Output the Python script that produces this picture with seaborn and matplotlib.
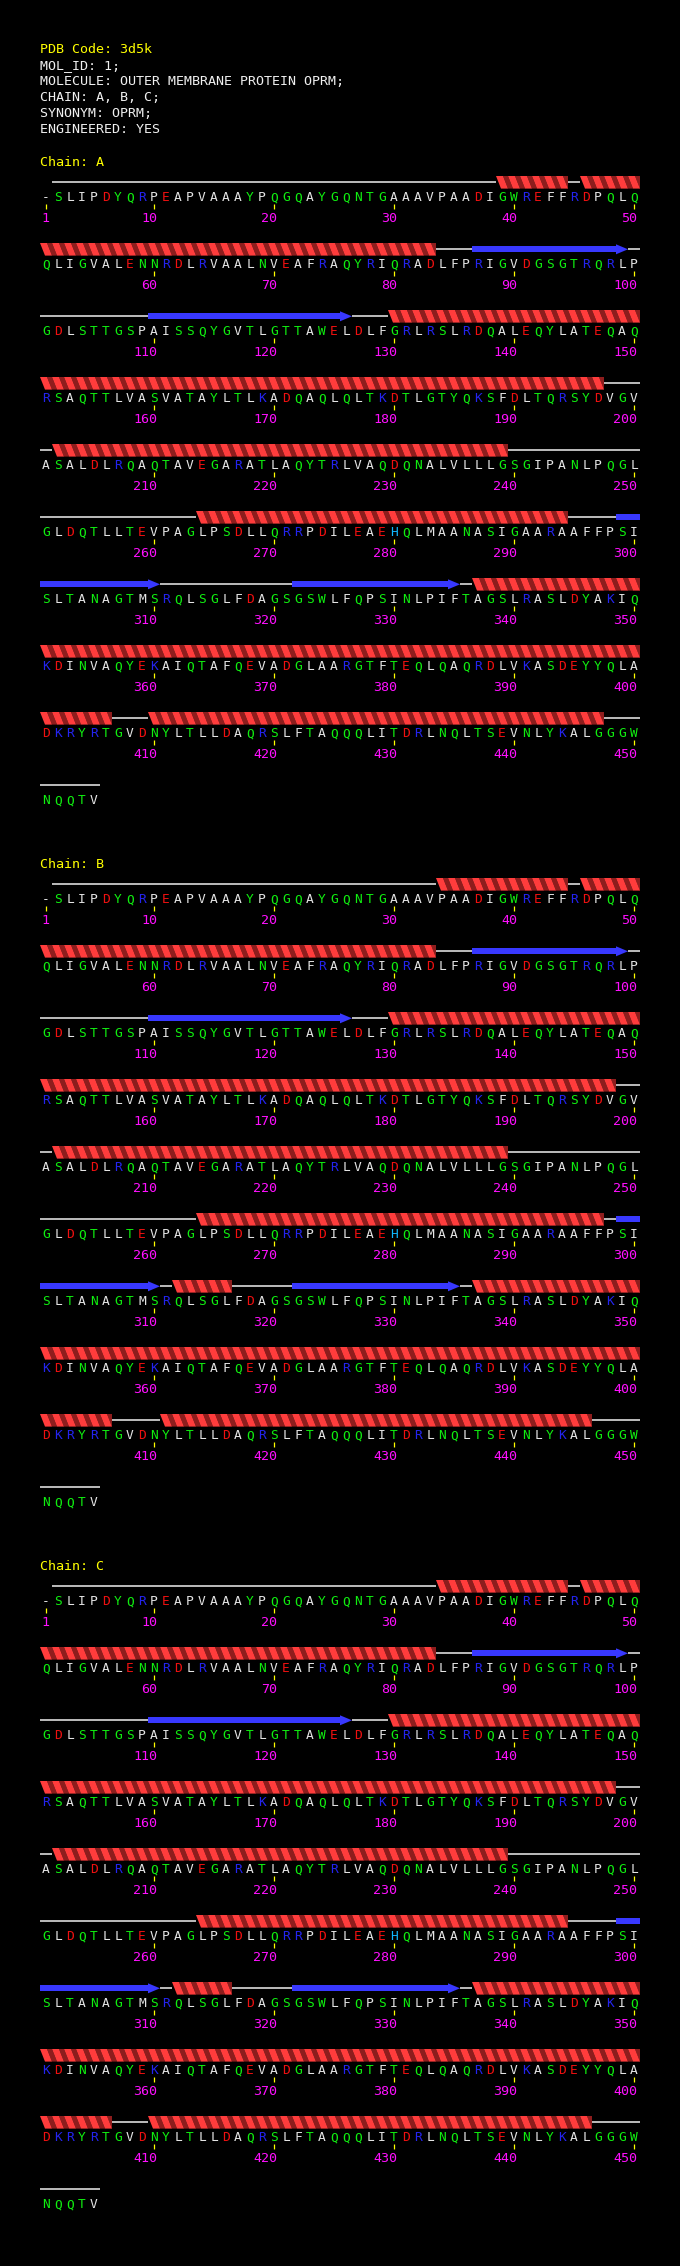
import numpy as np
import matplotlib
matplotlib.use("Agg")
import matplotlib.pyplot as plt
import seaborn as sns
from matplotlib.collections import PolyCollection, LineCollection

# ---------------- data ----------------
header_lines = [
    "PDB Code: 3d5k",
    "MOL_ID: 1;",
    "MOLECULE: OUTER MEMBRANE PROTEIN OPRM;",
    "CHAIN: A, B, C;",
    "SYNONYM: OPRM;",
    "ENGINEERED: YES",
]
header_is_title = [True, False, False, False, False, False]

sequence_rows = [
    "-SLIPDYQRPEAPVAAAYPQGQAYGQNTGAAAVPAADIGWREFFRDPQLQ",
    "QLIGVALENNRDLRVAALNVEAFRAQYRIQRADLFPRIGVDGSGTRQRLP",
    "GDLSTTGSPAISSQYGVTLGTTAWELDLFGRLRSLRDQALEQYLATEQAQ",
    "RSAQTTLVASVATAYLTLKADQAQLQLTKDTLGTYQKSFDLTQRSYDVGV",
    "ASALDLRQAQTAVEGARATLAQYTRLVAQDQNALVLLLGSGIPANLPQGL",
    "GLDQTLLTEVPAGLPSDLLQRRPDILEAEHQLMAANASIGAARAAFFPSI",
    "SLTANAGTMSRQLSGLFDAGSGSWLFQPSINLPIFTAGSLRASLDYAKIQ",
    "KDINVAQYEKAIQTAFQEVADGLAARGTFTEQLQAQRDLVKASDEYYQLA",
    "DKRYRTGVDNYLTLLDAQRSLFTAQQQLITDRLNQLTSEVNLYKALGGGW",
    "NQQTV",
]

chains = ["A", "B", "C"]

helices = {
    "A": [(39, 44), (46, 83), (130, 197), (202, 239), (264, 294), (337, 406), (410, 447)],
    "B": [(34, 44), (46, 83), (130, 198), (202, 239), (264, 297), (312, 316), (337, 406), (411, 446)],
    "C": [(34, 44), (46, 83), (130, 198), (202, 239), (264, 294), (312, 316), (337, 406), (410, 446)],
}
strands = {
    "A": [(87, 99), (110, 126), (299, 310), (322, 335)],
    "B": [(87, 99), (110, 126), (299, 310), (322, 335)],
    "C": [(87, 99), (110, 126), (299, 310), (322, 335)],
}

residue_groups = {
    "acidic": "DE",
    "basic": "RK",
    "his": "H",
    "polar": "STNQGYWC",
}

# ---------------- style ----------------
sns.set_theme(style="dark", rc={"axes.facecolor": "black", "figure.facecolor": "black"})
plt.rcParams["font.family"] = ["DejaVu Sans Mono", "DejaVu Sans"]

group_colors = {
    "acidic": "#f01010",
    "basic": "#2424f0",
    "his": "#10b8ff",
    "polar": "#10ee10",
    "other": "#e4e4e4",
}
C_YELLOW = "#ffff00"
C_WHITE = "#f0f0f0"
C_MAGENTA = "#ff10ff"
C_HELIX = "#ff3c3c"
C_HELIX_DARK = "#8e1d1d"
C_STRAND = "#3838ff"

W, H = 680, 2266
fig = plt.figure(figsize=(W / 100, H / 100), dpi=100)
ax = fig.add_axes([0, 0, 1, 1])
ax.set_xlim(0, W)
ax.set_ylim(H, 0)
ax.axis("off")
ax.set_facecolor("black")

X0, DX = 46, 12          # residue centre spacing
HEAD_X, HEAD_Y0, HEAD_DY = 40, 53, 16
CHAIN_Y0, CHAIN_DY, ROW_DY = 182.3, 702, 67
PER_ROW = 50

seq = "".join(sequence_rows)
n_res = len(seq)


def res_color(c):
    for g, letters in residue_groups.items():
        if c in letters:
            return group_colors[g]
    return group_colors["other"]


# header
for k, (line, is_t) in enumerate(zip(header_lines, header_is_title)):
    ax.text(HEAD_X, HEAD_Y0 + k * HEAD_DY, line, color=C_YELLOW if is_t else C_WHITE,
            fontsize=9.6, ha="left", va="baseline")

for ci, ch in enumerate(chains):
    state = np.array(["C"] * n_res, dtype=object)
    for a, b in helices[ch]:
        state[a - 1:b] = "H"
    for a, b in strands[ch]:
        state[a - 1:b] = "E"
    for i, c in enumerate(seq):
        if c == "-":
            state[i] = ""

    base = CHAIN_Y0 + ci * CHAIN_DY
    ax.text(HEAD_X, base - 16.6, f"Chain: {ch}", color=C_YELLOW, fontsize=9.6,
            ha="left", va="baseline")

    n_rows = len(sequence_rows)
    coil_segs, helix_bright, helix_dark, strand_polys = [], [], [], []
    tick_segs = []
    for r in range(n_rows):
        yl = base + r * ROW_DY
        idx = list(range(r * PER_ROW, min(n_res, (r + 1) * PER_ROW)))
        # letters, ticks, numbers
        for i in idx:
            p = i - r * PER_ROW
            x = X0 + p * DX
            ax.text(x, yl + 19, seq[i], color=res_color(seq[i]), fontsize=9.3,
                    ha="center", va="baseline")
            num = i + 1
            if r < n_rows - 1 and (num == 1 or num % 10 == 0):
                tick_segs.append([(x, yl + 22), (x, yl + 26.5)])
                ax.text(x + 3, yl + 40, str(num), color=C_MAGENTA, fontsize=9.6,
                        ha="right", va="baseline")
        # runs of secondary structure
        runs = []
        for i in idx:
            s = state[i]
            if runs and runs[-1][0] == s:
                runs[-1][2] = i
            else:
                runs.append([s, i, i])
        for s, a, b in runs:
            xl = X0 + (a - r * PER_ROW) * DX - DX / 2
            xr = X0 + (b - r * PER_ROW) * DX + DX / 2
            if s == "C":
                coil_segs.append([(xl, yl), (xr, yl)])
            elif s == "H":
                top, bot = yl - 6.3, yl + 6.3
                for k in range(a, b + 1):
                    cl = X0 + (k - r * PER_ROW) * DX - DX / 2
                    helix_bright.append([(cl, top), (cl + 7, top), (cl + 12, bot), (cl + 5, bot)])
                    if k < b:
                        helix_dark.append([(cl + 7, top), (cl + 12, top), (cl + 17, bot), (cl + 12, bot)])
                    else:
                        helix_dark.append([(cl + 7, top), (cl + 12, top), (cl + 12, bot)])
            elif s == "E":
                ends = (b + 1 >= n_res) or state[b + 1] != "E"
                xb = xr - DX if ends else xr
                strand_polys.append([(xl, yl - 3), (xb, yl - 3), (xb, yl + 3), (xl, yl + 3)])
                if ends:
                    strand_polys.append([(xb, yl - 5), (xr, yl), (xb, yl + 5)])

    ax.add_collection(LineCollection(coil_segs, colors=C_WHITE, linewidths=1.1))
    ax.add_collection(PolyCollection(helix_dark, facecolors=C_HELIX_DARK, edgecolors="none"))
    ax.add_collection(PolyCollection(helix_bright, facecolors=C_HELIX, edgecolors="none"))
    ax.add_collection(PolyCollection(strand_polys, facecolors=C_STRAND, edgecolors="none"))
    ax.add_collection(LineCollection(tick_segs, colors=C_YELLOW, linewidths=0.9))

fig.savefig("out.png", dpi=100, facecolor="black")
